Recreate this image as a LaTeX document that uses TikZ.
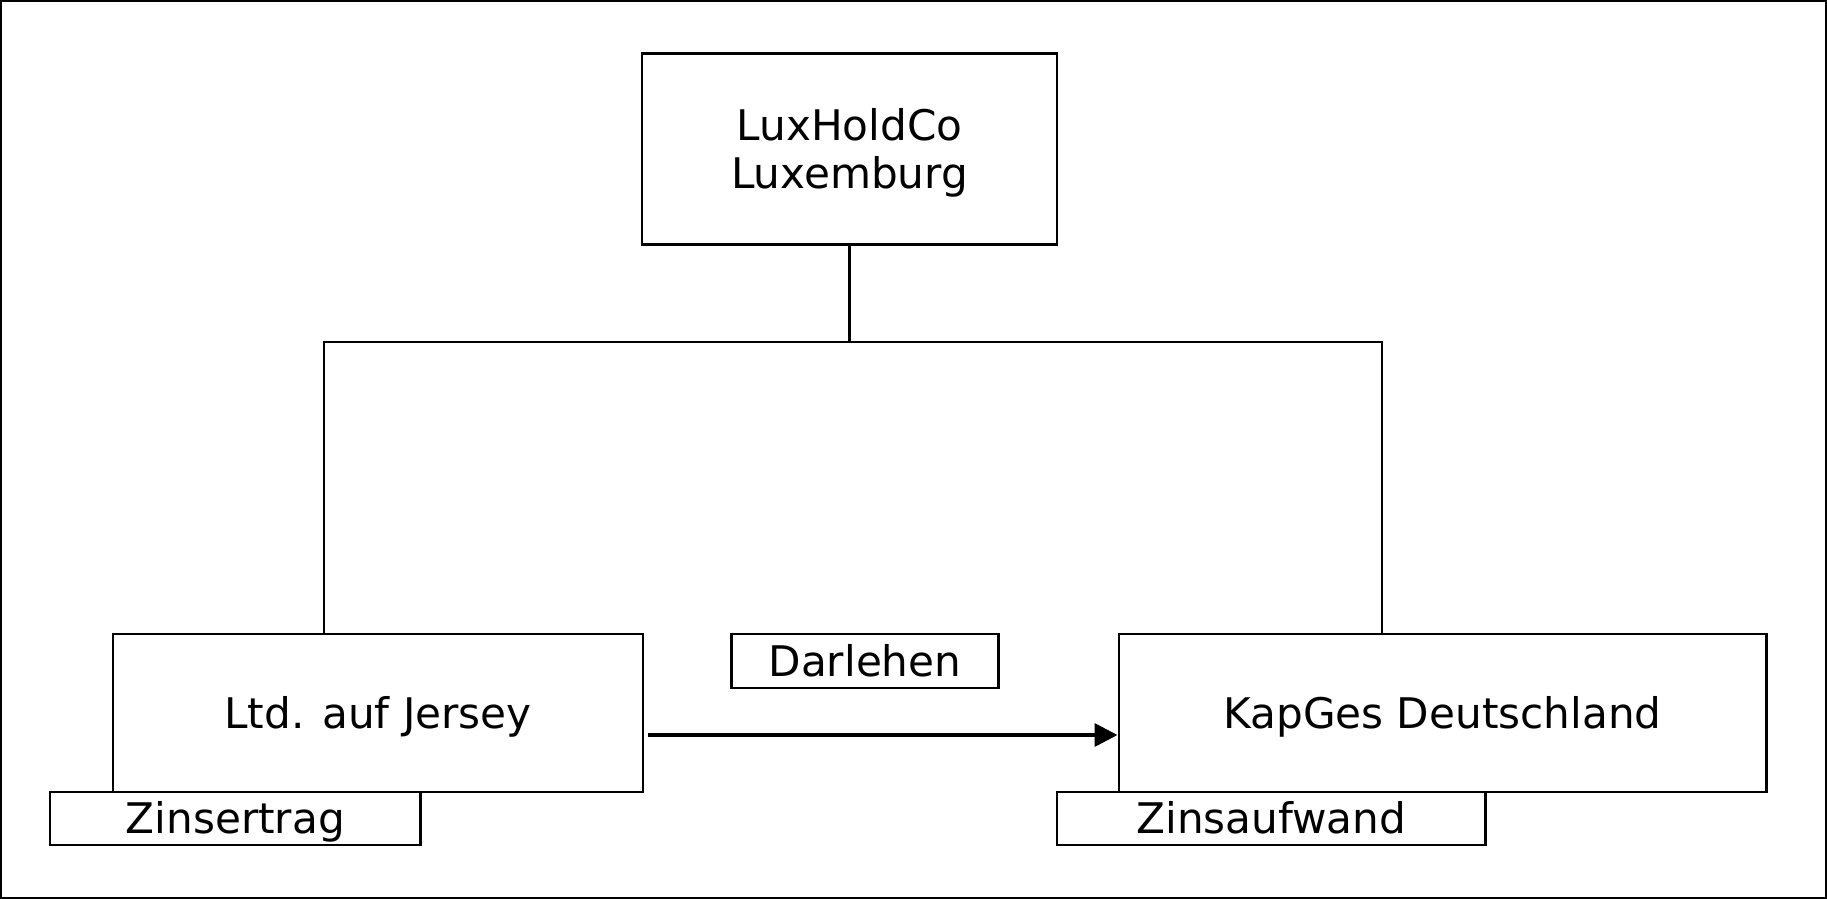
\documentclass[tikz,border=0pt]{standalone}
\usepackage{fontspec}
\setmainfont{DejaVu Sans}
\usetikzlibrary{arrows.meta}
\begin{document}
\begin{tikzpicture}[x=0.02cm,y=-0.02cm,
  boxnode/.style={draw=black,line width=1.2pt,inner sep=0pt,align=center,
    font=\fontsize{24}{27.4}\selectfont,text height=17.5pt,text depth=0pt},
  conn/.style={draw=black,line width=1.2pt},
  arr/.style={draw=black,line width=2pt,-{Triangle[length=13pt,width=13pt]}}]
\useasboundingbox (0,0) rectangle (1827,899);
\draw[line width=1.5pt] (1,1) rectangle (1826,898);
\node[boxnode,minimum width=8.3cm,minimum height=3.82cm,text height=44.9pt] (lux) at (849.5,149) {LuxHoldCo\\Luxemburg};
\node[boxnode,minimum width=10.6cm,minimum height=3.16cm] (ltd) at (378,713) {Ltd. auf Jersey};
\node[boxnode,minimum width=12.96cm,minimum height=3.16cm] (kap) at (1442.5,713) {KapGes Deutschland};
\node[boxnode,minimum width=5.34cm,minimum height=1.07cm] (dar) at (865,661) {Darlehen};
\node[boxnode,minimum width=7.41cm,minimum height=1.06cm] (zer) at (235.3,818.5) {Zinsertrag};
\node[boxnode,minimum width=8.57cm,minimum height=1.06cm] (zau) at (1271.3,818.5) {Zinsaufwand};
\coordinate (jl) at (324,342);
\coordinate (jr) at (1382,342);
\coordinate (ay) at (0,735);
\draw[conn] (lux.south) -- (lux.south |- jl);
\draw[conn] (ltd.north -| jl) -- (jl) -- (jr) -- (kap.north -| jr);
\draw[arr] ([xshift=3.7*0.02cm]ltd.east |- ay) -- (kap.west |- ay);
\end{tikzpicture}
\end{document}
